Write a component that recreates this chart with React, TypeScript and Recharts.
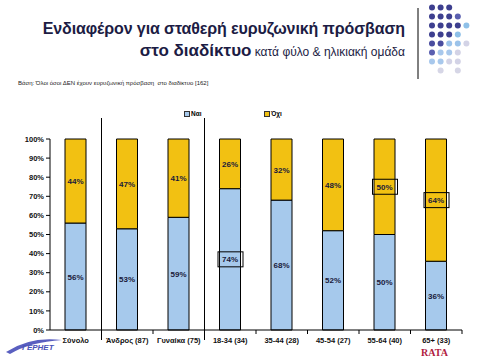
import { BarChart, Bar, XAxis, YAxis, LabelList, Legend } from 'recharts';

const categories = ['Σύνολο', 'Άνδρος (87)', 'Γυναίκα (75)', '18-34 (34)', '35-44 (28)', '45-54 (27)', '55-64 (40)', '65+ (33)'];
const yesValues = [56, 53, 59, 74, 68, 52, 50, 36];
const noValues = [44, 47, 41, 26, 32, 48, 50, 64];
const yTicks = [0, 10, 20, 30, 40, 50, 60, 70, 80, 90, 100];
const boxedYes = ['18-34 (34)'];
const boxedNo = ['55-64 (40)', '65+ (33)'];

const data = categories.map((name, i) => ({ name, yes: yesValues[i], no: noValues[i] }));

const YES_COLOR = '#a6c9ec';
const NO_COLOR = '#f2c112';
const FONT = '"Liberation Sans", Arial, sans-serif';

// plot area layout
const PLOT_LEFT = 50;
const PLOT_RIGHT = 462;
const PLOT_TOP = 129;
const PLOT_BOTTOM = 330;

// decorative dot grid, top right
const dotRows = [
    ['#3d3f8f', '#3d3f8f', '#3d3f8f', null, null],
    ['#3d3f8f', '#3d3f8f', '#3d3f8f', '#5a5fb0', null],
    ['#3d3f8f', '#3d3f8f', '#3d3f8f', '#3d3f8f', '#8ec0e8'],
    ['#3d3f8f', '#3d3f8f', '#3d3f8f', '#8ec0e8', null],
    ['#4a4d9f', '#4a4d9f', '#9cc3ea', '#9cc3ea', '#d3d3e6'],
    ['#5a5fb0', '#a8c8ec', '#a8c8ec', '#d3d3e6', null],
    ['#a8c8ec', '#a8c8ec', '#d3d3e6', '#d3d3e6', null],
    [null, '#d6d6e6', null, '#d6d6e6', null],
];

function makeLabel(boxed: string[]) {
    return (props: any) => {
        const { x, y, width, height, value, index } = props;
        const cx = x + width / 2;
        const cy = y + height / 2;
        const isBoxed = boxed.includes(categories[index]);
        return (
            <g>
                {isBoxed && (
                    <rect x={cx - 12} y={cy - 7.5} width={25} height={15} fill="none" stroke="#000" strokeWidth={1} />
                )}
                <text x={cx} y={cy} dy={3} textAnchor="middle" fontSize={8} fontWeight="bold" fill="#1a1a3a" fontFamily={FONT}>
                    {value}%
                </text>
            </g>
        );
    };
}

function LegendContent() {
    const items = [
        { label: 'Ναι', color: YES_COLOR, x: 184 },
        { label: 'Όχι', color: NO_COLOR, x: 264 },
    ];
    return (
        <div style={{ position: 'relative', height: 10 }}>
            {items.map((it) => (
                <div key={it.label} style={{ position: 'absolute', left: it.x, top: 0, display: 'flex', alignItems: 'center', fontFamily: FONT, fontSize: 6.5, fontWeight: 'bold' }}>
                    <span style={{ display: 'inline-block', width: 4, height: 4, background: it.color, border: '1px solid #333', marginRight: 1 }} />
                    {it.label}
                </div>
            ))}
        </div>
    );
}

export default function App() {
    const step = (PLOT_RIGHT - PLOT_LEFT) / categories.length;
    return (
        <div style={{ position: 'absolute', left: 0, top: 0, width: 480, height: 360, background: '#fff', overflow: 'hidden', fontFamily: FONT }}>
            <div style={{ position: 'absolute', right: 75, top: 20, color: '#1c1c44', fontSize: 16, fontWeight: 'bold', whiteSpace: 'nowrap', letterSpacing: -0.1 }}>
                Ενδιαφέρον για σταθερή ευρυζωνική πρόσβαση
            </div>
            <div style={{ position: 'absolute', right: 75, top: 41, color: '#1c1c44', whiteSpace: 'nowrap' }}>
                <span style={{ fontSize: 17, fontWeight: 'bold' }}>στο διαδίκτυο</span>
                <span style={{ fontSize: 12 }}> κατά φύλο &amp; ηλικιακή ομάδα</span>
            </div>
            <div style={{ position: 'absolute', left: 18, top: 80, fontSize: 6, color: '#222', whiteSpace: 'nowrap' }}>
                Βάση: Όλοι όσοι ΔΕΝ έχουν ευρυζωνική πρόσβαση&nbsp; στο διαδίκτυο [162]
            </div>

            <svg width={480} height={360} style={{ position: 'absolute', left: 0, top: 0 }}>
                <line x1={418} y1={8} x2={418} y2={79} stroke="#000" strokeWidth={1} />
                {dotRows.map((row, r) =>
                    row.map((c, k) =>
                        c ? <circle key={`${r}-${k}`} cx={432 + k * 8.6} cy={7.5 + r * 9} r={3} fill={c} /> : null,
                    ),
                )}
            </svg>

            <div style={{ position: 'absolute', left: 0, top: 0 }}>
                <BarChart width={480} height={360} data={data} margin={{ top: PLOT_TOP, right: 480 - PLOT_RIGHT, bottom: 10, left: 0 }} barSize={21}>
                    <XAxis
                        dataKey="name"
                        height={20}
                        tickLine={false}
                        axisLine={{ stroke: '#000' }}
                        interval={0}
                        tick={{ fontSize: 7.5, fontWeight: 'bold', fill: '#111', fontFamily: FONT }}
                        tickMargin={2}
                    />
                    <YAxis
                        width={PLOT_LEFT}
                        domain={[0, 100]}
                        ticks={yTicks}
                        tickFormatter={(v) => `${v}%`}
                        axisLine={{ stroke: '#000' }}
                        tickLine={{ stroke: '#000' }}
                        tickSize={4}
                        tick={{ fontSize: 7.5, fontWeight: 'bold', fill: '#111', fontFamily: FONT }}
                    />
                    <Legend verticalAlign="top" align="left" content={LegendContent} wrapperStyle={{ top: 110, left: 0, width: 480 }} />
                    <Bar dataKey="yes" name="Ναι" stackId="a" fill={YES_COLOR} stroke="#000" strokeWidth={1} isAnimationActive={false}>
                        <LabelList dataKey="yes" content={makeLabel(boxedYes)} />
                    </Bar>
                    <Bar dataKey="no" name="Όχι" stackId="a" fill={NO_COLOR} stroke="#000" strokeWidth={1} isAnimationActive={false}>
                        <LabelList dataKey="no" content={makeLabel(boxedNo)} />
                    </Bar>
                </BarChart>
            </div>

            <svg width={480} height={360} style={{ position: 'absolute', left: 0, top: 0, pointerEvents: 'none' }}>
                {categories.map((_, i) =>
                    i === 0 ? null : (
                        <line
                            key={i}
                            x1={PLOT_LEFT + i * step}
                            x2={PLOT_LEFT + i * step}
                            y1={i === 1 || i === 3 ? 118 : PLOT_BOTTOM}
                            y2={i === 1 || i === 3 ? 340 : PLOT_BOTTOM + 4}
                            stroke="#000"
                            strokeWidth={1}
                        />
                    ),
                )}
                <line x1={PLOT_RIGHT} x2={PLOT_RIGHT} y1={PLOT_BOTTOM} y2={PLOT_BOTTOM + 4} stroke="#000" />
                {/* logos */}
                <path d="M6 352 Q 30 336 62 340 Q 30 342 10 354 Z" fill="#5a5fc0" />
                <text x={22} y={350} fontSize={8} fontStyle="italic" fontWeight="bold" fill="#4a52b8" fontFamily={FONT}>ΓΕΡΗΕΤ</text>
                <text x={421} y={356} fontSize={10} fontWeight="bold" fill="#b02040" fontFamily="'Liberation Serif', serif">RATA</text>
            </svg>
        </div>
    );
}
